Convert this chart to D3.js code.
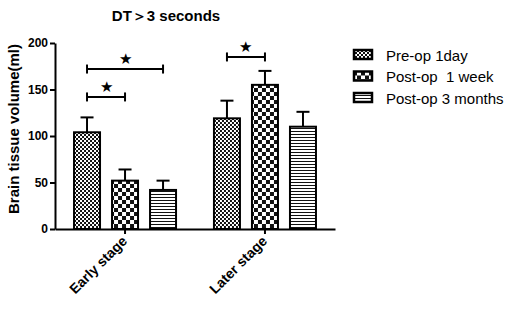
<!DOCTYPE html>
<html>
<head>
<meta charset="utf-8">
<script src="https://cdn.jsdelivr.net/npm/d3@7"></script>
<style>
  body { margin: 0; background: #fff; }
  text { font-family: "Liberation Sans", Arial, sans-serif; }
</style>
</head>
<body>
<svg id="chart" width="510" height="309"></svg>
<script>
// data
const groups = ["Early stage", "Later stage"];
const series = ["Pre-op 1day", "Post-op  1 week", "Post-op 3 months"];
const means = [
  [104, 52, 42],
  [119, 155, 110],
];
const errTops = [
  [120, 64, 52],
  [138, 170, 126],
];
const yTicks = [0, 50, 100, 150, 200];
// significance brackets: group, from series, to series, bracket level
const sigs = [
  { g: 0, a: 0, b: 1, y: 142 },
  { g: 0, a: 0, b: 2, y: 172 },
  { g: 1, a: 0, b: 1, y: 185 },
];

const svg = d3.select("#chart");

// patterns
const defs = svg.append("defs");
const p1 = defs.append("pattern").attr("id", "pat0")
  .attr("patternUnits", "userSpaceOnUse").attr("width", 4).attr("height", 4);
p1.append("rect").attr("width", 4).attr("height", 4).attr("fill", "#fff");
p1.append("rect").attr("width", 2).attr("height", 2).attr("fill", "#111");
p1.append("rect").attr("x", 2).attr("y", 2).attr("width", 2).attr("height", 2).attr("fill", "#111");

const p2 = defs.append("pattern").attr("id", "pat1")
  .attr("patternUnits", "userSpaceOnUse").attr("width", 8).attr("height", 8);
p2.append("rect").attr("width", 8).attr("height", 8).attr("fill", "#fff");
p2.append("rect").attr("width", 4).attr("height", 4).attr("fill", "#111");
p2.append("rect").attr("x", 4).attr("y", 4).attr("width", 4).attr("height", 4).attr("fill", "#111");

const p3 = defs.append("pattern").attr("id", "pat2")
  .attr("patternUnits", "userSpaceOnUse").attr("width", 4).attr("height", 3);
p3.append("rect").attr("width", 4).attr("height", 3).attr("fill", "#fff");
p3.append("rect").attr("y", 2).attr("width", 4).attr("height", 1).attr("fill", "#111");

// scales
const x0 = d3.scaleBand().domain(groups).range([55, 335])
  .paddingInner(0.271).paddingOuter(0.136);
const x1 = d3.scaleBand().domain(series).range([0, x0.bandwidth()])
  .paddingInner(0.316).paddingOuter(0);
const y = d3.scaleLinear().domain([0, 200]).range([229, 43]);

// title
svg.append("text").attr("x", 166).attr("y", 21)
  .attr("text-anchor", "middle").attr("font-size", 15).attr("font-weight", "bold")
  .text("DT＞3 seconds");

// y axis
const yAxis = svg.append("g").attr("transform", "translate(55,0)")
  .call(d3.axisLeft(y).tickValues(yTicks).tickSize(5).tickPadding(2).tickSizeOuter(0));
yAxis.select(".domain").attr("stroke", "#000").attr("stroke-width", 2);
yAxis.selectAll(".tick line").attr("stroke-width", 2);
yAxis.selectAll(".tick text").attr("font-size", 12).attr("font-weight", "bold")
  .attr("font-family", "Liberation Sans, Arial, sans-serif").attr("fill", "#000");

svg.append("text")
  .attr("transform", "translate(19,129) rotate(-90)")
  .attr("text-anchor", "middle").attr("font-size", 15).attr("font-weight", "bold")
  .text("Brain tissue volume(ml)");

// x axis
const xAxis = svg.append("g").attr("transform", "translate(0,229)")
  .call(d3.axisBottom(x0).tickSize(5).tickSizeOuter(0).tickFormat(""));
xAxis.select(".domain").attr("stroke", "#000").attr("stroke-width", 2);
xAxis.selectAll(".tick line").attr("stroke-width", 2);

svg.append("g").selectAll("text").data(groups).join("text")
  .attr("transform", d => `translate(${x0(d) + x0.bandwidth() / 2 + 3},242) rotate(-45)`)
  .attr("text-anchor", "end").attr("font-size", 14).attr("font-weight", "bold")
  .text(d => d);

// bars
const gGroups = svg.append("g").selectAll("g").data(groups).join("g")
  .attr("transform", d => `translate(${x0(d)},0)`);

gGroups.each(function (g, gi) {
  const sel = d3.select(this);
  const rows = series.map((s, si) => ({ s, si, v: means[gi][si], e: errTops[gi][si] }));
  // error bars
  sel.selectAll("line.err").data(rows).join("line").attr("class", "err")
    .attr("x1", d => x1(d.s) + x1.bandwidth() / 2)
    .attr("x2", d => x1(d.s) + x1.bandwidth() / 2)
    .attr("y1", d => y(d.v)).attr("y2", d => y(d.e))
    .attr("stroke", "#000").attr("stroke-width", 2);
  sel.selectAll("line.cap").data(rows).join("line").attr("class", "cap")
    .attr("x1", d => x1(d.s) + x1.bandwidth() / 2 - 6.5)
    .attr("x2", d => x1(d.s) + x1.bandwidth() / 2 + 6.5)
    .attr("y1", d => y(d.e)).attr("y2", d => y(d.e))
    .attr("stroke", "#000").attr("stroke-width", 2);
  sel.selectAll("rect").data(rows).join("rect")
    .attr("x", d => x1(d.s)).attr("width", x1.bandwidth())
    .attr("y", d => y(d.v)).attr("height", d => y(0) - y(d.v))
    .attr("fill", d => `url(#pat${d.si})`)
    .attr("stroke", "#000").attr("stroke-width", 2);
});

// significance brackets
const sg = svg.append("g");
sigs.forEach(d => {
  const gx = x0(groups[d.g]);
  const xa = gx + x1(series[d.a]) + x1.bandwidth() / 2;
  const xb = gx + x1(series[d.b]) + x1.bandwidth() / 2;
  const yy = y(d.y);
  sg.append("line").attr("x1", xa).attr("x2", xb).attr("y1", yy).attr("y2", yy)
    .attr("stroke", "#000").attr("stroke-width", 2);
  [xa, xb].forEach(xx => sg.append("line").attr("x1", xx).attr("x2", xx)
    .attr("y1", yy - 4.5).attr("y2", yy + 4.5).attr("stroke", "#000").attr("stroke-width", 2));
  sg.append("text").attr("x", (xa + xb) / 2).attr("y", yy - 5)
    .attr("text-anchor", "middle").attr("font-size", 15)
    .attr("font-family", "DejaVu Sans").text("★");
});

// legend
const leg = svg.append("g").attr("transform", "translate(353,50)");
const li = leg.selectAll("g").data(series).join("g")
  .attr("transform", (d, i) => `translate(0,${i * 21.5})`);
li.append("rect").attr("x", 1).attr("y", 0).attr("width", 18).attr("height", 9)
  .attr("fill", (d, i) => `url(#pat${i})`).attr("stroke", "#000").attr("stroke-width", 2.5);
li.append("text").attr("x", 33).attr("y", 10.5)
  .attr("font-size", 15).text(d => d).style("white-space", "pre");
</script>
</body>
</html>
